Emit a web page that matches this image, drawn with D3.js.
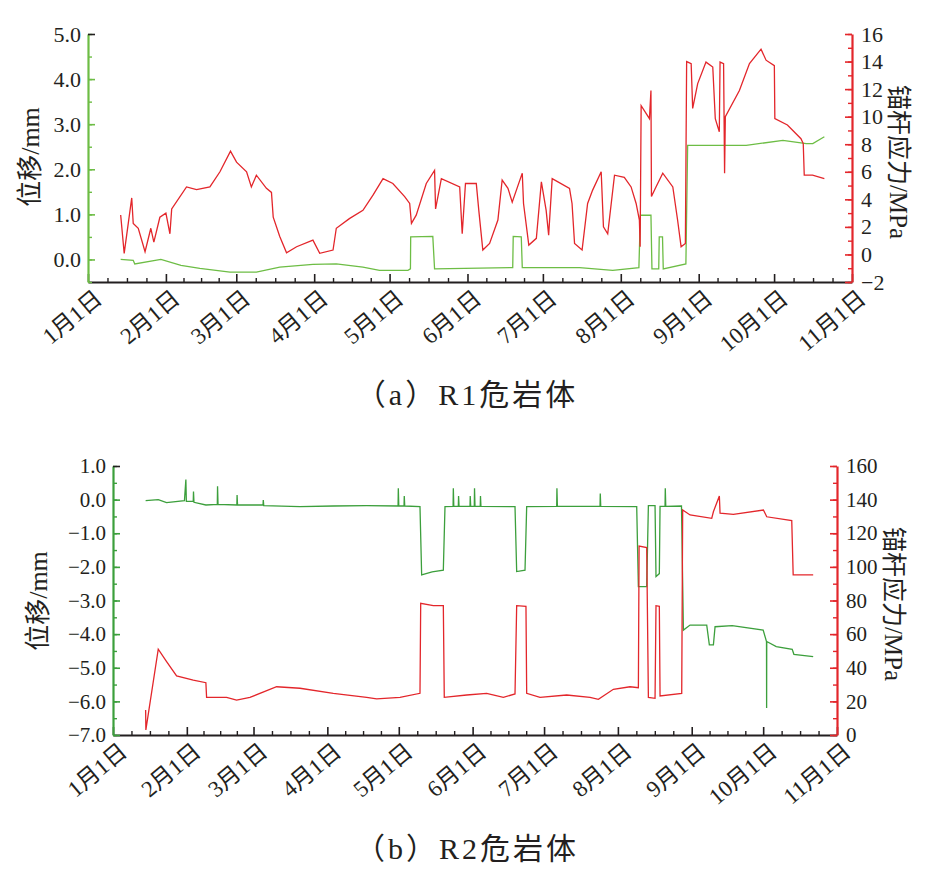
<!DOCTYPE html>
<html>
<head>
<meta charset="utf-8">
<script src="https://cdn.jsdelivr.net/npm/d3@7"></script>
<style>
  html, body { margin: 0; padding: 0; background: #fff; }
  svg text { font-family: "Liberation Serif", "Noto Sans CJK SC", serif; fill: #231f20; }
</style>
</head>
<body>
<svg id="chart" width="934" height="877"></svg>
<script>
// ---------- DATA (days since 1 Jan) ----------
const monthTicks = ["1月1日","2月1日","3月1日","4月1日","5月1日","6月1日","7月1日","8月1日","9月1日","10月1日","11月1日"];

// R1 anchor stress (MPa)
const r1StressDays = [13,14.4,17.4,18,20,22.7,25,26.2,28.6,31,32.6,33.3,39.2,43.2,48.5,52.5,56.7,59.1,63.1,65,67,71,73,73.7,76.3,79,83,89.5,92.2,97.5,98.8,104,109.4,113.4,117.4,121.3,126,128,128.7,130.6,134.6,137.9,138.3,140.6,147.9,148.9,150.2,154.5,155.5,157.1,159.8,163.1,164.8,167.1,168.8,172.8,173.3,175.4,178.4,180.4,182.3,183.3,184.7,191.6,192.6,193.6,196.6,198.8,200.8,204.2,205.1,206.8,209.5,213.4,216.1,218.1,219.4,219.7,220.1,223.4,224,224.2,226,228.7,232.7,234.6,236,237.7,238.2,240,240.6,242.6,245.9,248.6,249.6,251.2,251.5,252.9,253.3,253.6,259.2,263.2,267.8,269.8,273.1,273.3,278.3,283.7,284.6,285,288.3,293];
const r1StressVals = [2.86,0.08,4.1,2.25,1.9,0.2,1.9,0.9,2.7,3.0,1.5,3.3,4.9,4.7,4.9,6.0,7.5,6.7,6.0,4.9,5.75,4.8,4.5,2.7,1.3,0.12,0.56,1.04,0.08,0.32,1.9,2.6,3.2,4.3,5.5,5.15,4.2,3.7,2.25,2.85,5.15,6.1,3.3,5.5,4.9,1.5,5.15,5.15,3.2,0.32,0.8,2.5,5.4,4.8,3.8,5.9,3.7,0.68,1.17,5.27,3.2,1.4,5.5,4.8,3.7,0.8,0.32,3.7,4.67,6.0,2.0,1.5,5.75,5.6,4.9,3.7,2.5,0.56,10.8,9.86,11.9,4.2,4.9,5.9,4.9,2.5,0.56,0.8,14.0,13.85,10.6,12.4,13.96,13.6,9.86,8.9,13.96,13.85,5.9,10.0,11.9,13.85,14.9,14.1,13.7,9.86,9.4,8.4,8.05,5.75,5.75,5.5];

// R1 displacement (mm)
const r1DispDays = [13,18,18.6,29,37,44.5,56.5,67,76.3,89.5,98.8,109.4,116,127.3,128.3,128.4,137.2,137.9,169,169.2,172.4,172.8,195.6,208.8,219.2,219.8,224,224.4,227.1,227.3,228.6,228.9,237.9,238.6,248.6,261.9,276.5,285.8,288.4,293];
const r1DispVals = [0,-0.02,-0.1,0,-0.13,-0.2,-0.28,-0.28,-0.17,-0.11,-0.1,-0.17,-0.24,-0.24,-0.21,0.5,0.51,-0.21,-0.18,0.51,0.5,-0.18,-0.18,-0.24,-0.18,0.98,0.98,-0.21,-0.21,0.5,0.5,-0.21,-0.1,2.53,2.53,2.53,2.64,2.57,2.57,2.72];

// R2 anchor stress (MPa)
const r2StressDays = [13.7,13.8,19.0,22.5,26.7,33.7,39.0,39.3,47.7,51.9,57.5,68.7,78.5,92.5,106.5,110.7,120.5,128.9,129.2,134.5,138.7,139.1,148.5,156.9,163.9,168.8,169.5,173.4,173.7,179.3,190.5,200.3,203.8,210.1,217.1,220.6,220.9,224.1,224.8,227.6,228.0,229.4,229.7,238.8,239.2,242.3,251.4,252.1,254.6,254.9,260.5,273.1,274.5,285.0,285.6,294.0];
const r2StressVals = [14.9,3.0,51,43.6,35.1,32.7,31.1,22.4,22.4,20.8,22.4,28.7,27.8,24.8,22.4,21.5,22.4,24.8,78.3,76.9,76.9,22.4,23.8,24.8,22.4,24.4,76.9,76.5,24.8,22.4,23.8,22.4,21.2,27.2,28.7,28.1,112.4,111.5,22.4,21.8,76.9,76.5,23.2,24.8,133.8,130.9,128.9,132.8,142.2,131.9,131.2,133.8,129.8,127.5,95.2,95.2];

// R2 displacement (mm)
const r2DispDays = [13.7,19,22.5,30,30.6,30.8,33.7,33.8,34,39,43.8,43.9,44.1,52,52.1,52.3,63,63.1,63.3,78.5,92.5,106.5,119.7,119.8,120,122.2,122.3,122.5,128.9,129.6,134,138.7,139.4,142.8,142.9,143.1,145,145.1,145.3,149.9,150,150.2,151.7,151.8,152,154.2,154.3,154.5,168.8,169.5,173,173.7,186.3,186.4,186.6,204.5,204.6,204.8,219.9,220.6,224.1,224.8,227.6,228,229.4,229.7,231.8,231.9,232.1,238.7,239.5,242.3,249.3,250.4,252.1,252.8,260,273,274.4,274.45,274.5,278.5,285.2,285.9,294];
const r2DispVals = [-0.03,0.0,-0.09,-0.03,0.6,-0.05,-0.05,0.24,-0.08,-0.16,-0.14,0.4,-0.14,-0.16,0.14,-0.16,-0.16,-0.01,-0.18,-0.21,-0.19,-0.18,-0.19,0.34,-0.19,-0.19,0.11,-0.19,-0.21,-2.24,-2.15,-2.1,-0.21,-0.2,0.34,-0.2,-0.2,0.11,-0.2,-0.2,0.11,-0.2,-0.2,0.34,-0.2,-0.2,0.11,-0.2,-0.21,-2.14,-2.1,-0.21,-0.2,0.34,-0.2,-0.2,0.18,-0.2,-0.21,-2.59,-2.59,-0.18,-0.18,-2.29,-2.2,-0.2,-0.2,0.34,-0.2,-0.19,-3.88,-3.73,-3.73,-4.32,-4.32,-3.78,-3.75,-3.88,-4.22,-6.2,-4.22,-4.37,-4.45,-4.6,-4.67];

// ---------- DRAWING ----------
const svg = d3.select("#chart");
const base = new Date(2019, 0, 1);
const toDate = d => new Date(base.getTime() + d * 864e5);
const monthDates = d3.range(0, 11).map(m => new Date(2019, m, 1));
const minorDates = [];
for (let m = 0; m < 10; m++) {
  const a = monthDates[m].getTime(), b = monthDates[m + 1].getTime();
  for (let k = 1; k < 4; k++) minorDates.push(new Date(a + (b - a) * k / 4));
}

const RED = "#e3262b";

function panel(cfg) {
  const g = svg.append("g");
  const x = d3.scaleTime().domain([monthDates[0], monthDates[10]]).range([cfg.x0, cfg.x1]);
  const yL = d3.scaleLinear().domain(cfg.leftDomain).range([cfg.y1, cfg.y0]);
  const yR = d3.scaleLinear().domain(cfg.rightDomain).range([cfg.y1, cfg.y0]);

  // lines
  const lineL = d3.line().x((d, i) => x(toDate(cfg.dispDays[i]))).y(d => yL(d));
  const lineR = d3.line().x((d, i) => x(toDate(cfg.stressDays[i]))).y(d => yR(d));
  g.append("path").datum(cfg.dispVals).attr("d", lineL)
    .attr("fill", "none").attr("stroke", cfg.green).attr("stroke-width", 1.3);
  g.append("path").datum(cfg.stressVals).attr("d", lineR)
    .attr("fill", "none").attr("stroke", RED).attr("stroke-width", 1.3);

  // bottom axis (minor + major)
  g.append("g").attr("transform", `translate(0,${cfg.y1})`)
    .call(d3.axisBottom(x).tickValues(minorDates).tickSizeInner(-4).tickSizeOuter(0).tickFormat(""))
    .call(s => s.selectAll("line").attr("stroke", "#231f20").attr("stroke-width", 1.4))
    .call(s => s.select(".domain").remove());
  const xb = g.append("g").attr("transform", `translate(0,${cfg.y1})`)
    .call(d3.axisBottom(x).tickValues(monthDates).tickSizeInner(-8).tickSizeOuter(0)
      .tickFormat((d, i) => monthTicks[i]));
  xb.select(".domain").attr("stroke", "#231f20").attr("stroke-width", 2);
  xb.selectAll("line").attr("stroke", "#231f20").attr("stroke-width", 1.6);
  xb.selectAll("text")
    .attr("font-size", 23)
    .attr("text-anchor", "end")
    .attr("dy", 0).attr("y", 0)
    .attr("transform", "translate(15,19) rotate(-40)");

  // left axis
  const lMinor = d3.range(cfg.leftDomain[0], cfg.leftDomain[1] + 1e-9, cfg.leftMinor);
  g.append("g").attr("transform", `translate(${cfg.x0},0)`)
    .call(d3.axisLeft(yL).tickValues(lMinor).tickSizeInner(-4).tickSizeOuter(0).tickFormat(""))
    .call(s => s.selectAll("line").attr("stroke", cfg.green).attr("stroke-width", 1.4))
    .call(s => s.select(".domain").remove());
  const la = g.append("g").attr("transform", `translate(${cfg.x0},0)`)
    .call(d3.axisLeft(yL).tickValues(cfg.leftTicks).tickSizeInner(-7).tickSizeOuter(0)
      .tickPadding(7).tickFormat(d3.format(".1f")));
  la.select(".domain").attr("stroke", cfg.green).attr("stroke-width", 2.2);
  la.selectAll("line").attr("stroke", (d, i) => d === cfg.leftDomain[1] ? "#231f20" : cfg.green).attr("stroke-width", 1.6);
  la.selectAll("text").attr("font-size", cfg.labelSize);

  // right axis
  const rMinor = d3.range(cfg.rightDomain[0], cfg.rightDomain[1] + 1e-9, cfg.rightMinor);
  g.append("g").attr("transform", `translate(${cfg.x1},0)`)
    .call(d3.axisRight(yR).tickValues(rMinor).tickSizeInner(-4).tickSizeOuter(0).tickFormat(""))
    .call(s => s.selectAll("line").attr("stroke", RED).attr("stroke-width", 1.4))
    .call(s => s.select(".domain").remove());
  const ra = g.append("g").attr("transform", `translate(${cfg.x1},0)`)
    .call(d3.axisRight(yR).tickValues(cfg.rightTicks).tickSizeInner(-7).tickSizeOuter(0)
      .tickPadding(9).tickFormat(d3.format("d")));
  ra.select(".domain").attr("stroke", RED).attr("stroke-width", 2.2);
  ra.selectAll("line").attr("stroke", RED).attr("stroke-width", 1.6);
  ra.selectAll("text").attr("font-size", cfg.labelSize);

  // axis titles
  g.append("text").text("位移/mm")
    .attr("transform", `translate(${cfg.leftTitleX},${cfg.leftTitleY}) rotate(-90)`)
    .attr("text-anchor", "middle").attr("dominant-baseline", "central").attr("font-size", 26);
  g.append("text").text("锚杆应力/MPa")
    .attr("transform", `translate(${cfg.rightTitleX},${cfg.rightTitleY}) rotate(90)`)
    .attr("text-anchor", "middle").attr("dominant-baseline", "central").attr("font-size", 25);

  // caption
  g.append("text").text(cfg.caption)
    .attr("x", 467).attr("y", cfg.captionY)
    .attr("text-anchor", "middle").attr("font-size", 30)
    .attr("letter-spacing", 3);
}

panel({
  x0: 88, x1: 852, y0: 34, y1: 282,
  leftDomain: [-0.5, 5], leftTicks: [0, 1, 2, 3, 4, 5], leftMinor: 0.5,
  rightDomain: [-2, 16], rightTicks: d3.range(-2, 17, 2), rightMinor: 1,
  dispDays: r1DispDays, dispVals: r1DispVals,
  stressDays: r1StressDays, stressVals: r1StressVals,
  green: "#6dbd45", labelSize: 22,
  leftTitleX: 30, leftTitleY: 157, rightTitleX: 898, rightTitleY: 162,
  caption: "（a）R1危岩体", captionY: 405
});

panel({
  x0: 113, x1: 837, y0: 466, y1: 735,
  leftDomain: [-7, 1], leftTicks: d3.range(-7, 1.001, 1), leftMinor: 0.5,
  rightDomain: [0, 160], rightTicks: d3.range(0, 161, 20), rightMinor: 10,
  dispDays: r2DispDays, dispVals: r2DispVals,
  stressDays: r2StressDays, stressVals: r2StressVals,
  green: "#3c9f3c", labelSize: 21,
  leftTitleX: 38, leftTitleY: 601, rightTitleX: 893, rightTitleY: 604,
  caption: "（b）R2危岩体", captionY: 859
});
</script>
</body>
</html>
